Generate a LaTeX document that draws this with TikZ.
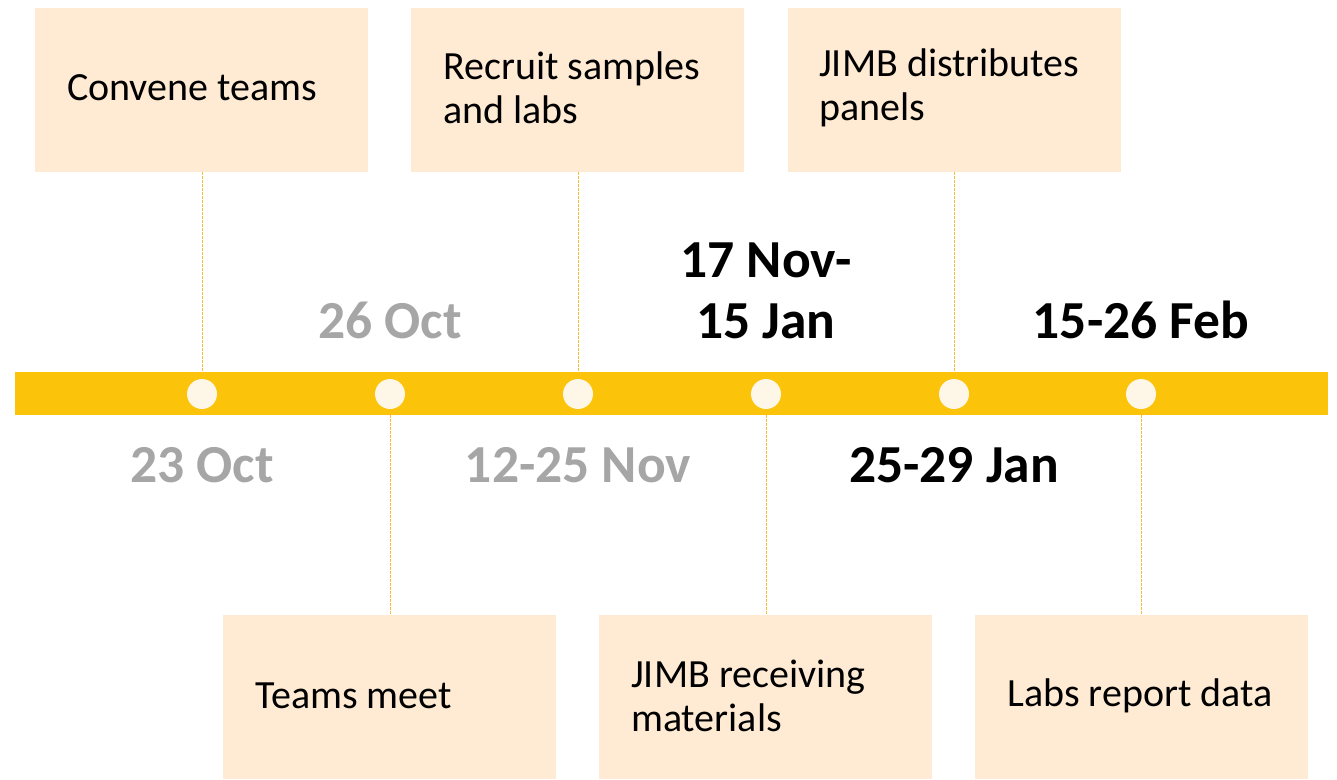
\documentclass[tikz,border=0pt]{standalone}
\usepackage{fontspec}
\setmainfont{Carlito}
\definecolor{barY}{HTML}{FCC30B}
\definecolor{dotC}{HTML}{FEF6E6}
\definecolor{boxC}{HTML}{FFEBD4}
\definecolor{grayT}{HTML}{A6A6A6}
\definecolor{lineC}{HTML}{F8BE30}
\tikzset{
  evbox/.style={fill=boxC, draw=none, minimum width=333pt, minimum height=164pt, inner sep=0pt},
  evtext/.style={anchor=west, align=left, inner sep=0pt, font=\fontsize{40}{44}\selectfont},
  dot/.style={circle, fill=dotC, draw=none, minimum size=30pt, inner sep=0pt},
  datelbl/.style={align=center, inner sep=0pt, font=\fontsize{53.5}{61}\selectfont\bfseries},
  link/.style={lineC, line width=1pt, dash pattern=on 3pt off 1pt}
}
\begin{document}
\begin{tikzpicture}[x=1pt,y=-1pt]
\useasboundingbox (0,0) rectangle (1337,779);
% bar
\node[fill=barY, draw=none, minimum width=1313pt, minimum height=43pt, inner sep=0pt] (bar) at (671.5,393.5) {};
% dots
\node[dot] (d1) at (202,394) {};
\node[dot] (d2) at (390,394) {};
\node[dot] (d3) at (578,394) {};
\node[dot] (d4) at (766,394) {};
\node[dot] (d5) at (954,394) {};
\node[dot] (d6) at (1141,394) {};
% top boxes
\node[evbox] (b1) at (201.5,90) {};
\node[evbox] (b3) at (577.5,90) {};
\node[evbox] (b5) at (954,90) {};
% bottom boxes
\node[evbox] (b2) at (389.5,696.5) {};
\node[evbox] (b4) at (765.5,696.5) {};
\node[evbox] (b6) at (1141.5,696.5) {};
% texts
\node[evtext] (t1) at (67,88) {Convene teams};
\node[evtext] (t3) at (443,88) {Recruit samples\\and labs};
\node[evtext] (t5) at (819,88) {JIMB distributes\\panels};
\node[evtext] (t2) at (255,696) {Teams meet};
\node[evtext] (t4) at (631,696) {JIMB receiving\\materials};
\node[evtext] (t6) at (1007,696) {Labs report data};
% connectors
\coordinate (bt1) at (202,372);
\coordinate (bt3) at (578,372);
\coordinate (bt5) at (954,372);
\coordinate (bb2) at (390,415);
\coordinate (bb4) at (766,415);
\coordinate (bb6) at (1141,415);
\draw[link] (b1.south -| d1) -- (bt1);
\draw[link] (b3.south -| d3) -- (bt3);
\draw[link] (b5.south -| d5) -- (bt5);
\draw[link] (bb2) -- (b2.north -| d2);
\draw[link] (bb4) -- (b4.north -| d4);
\draw[link] (bb6) -- (b6.north -| d6);
% dates
\node[datelbl, grayT, anchor=base] (l1) at (202,482) {23 Oct};
\node[datelbl, grayT, anchor=base] (l2) at (390,338) {26 Oct};
\node[datelbl, grayT, anchor=base] (l3) at (578,482) {12-25 Nov};
\node[datelbl, black, anchor=base] (l4) at (766,338) {17 Nov-\\15 Jan};
\node[datelbl, black, anchor=base] (l5) at (954,482) {25-29 Jan};
\node[datelbl, black, anchor=base] (l6) at (1141,338) {15-26 Feb};
\end{tikzpicture}
\end{document}
